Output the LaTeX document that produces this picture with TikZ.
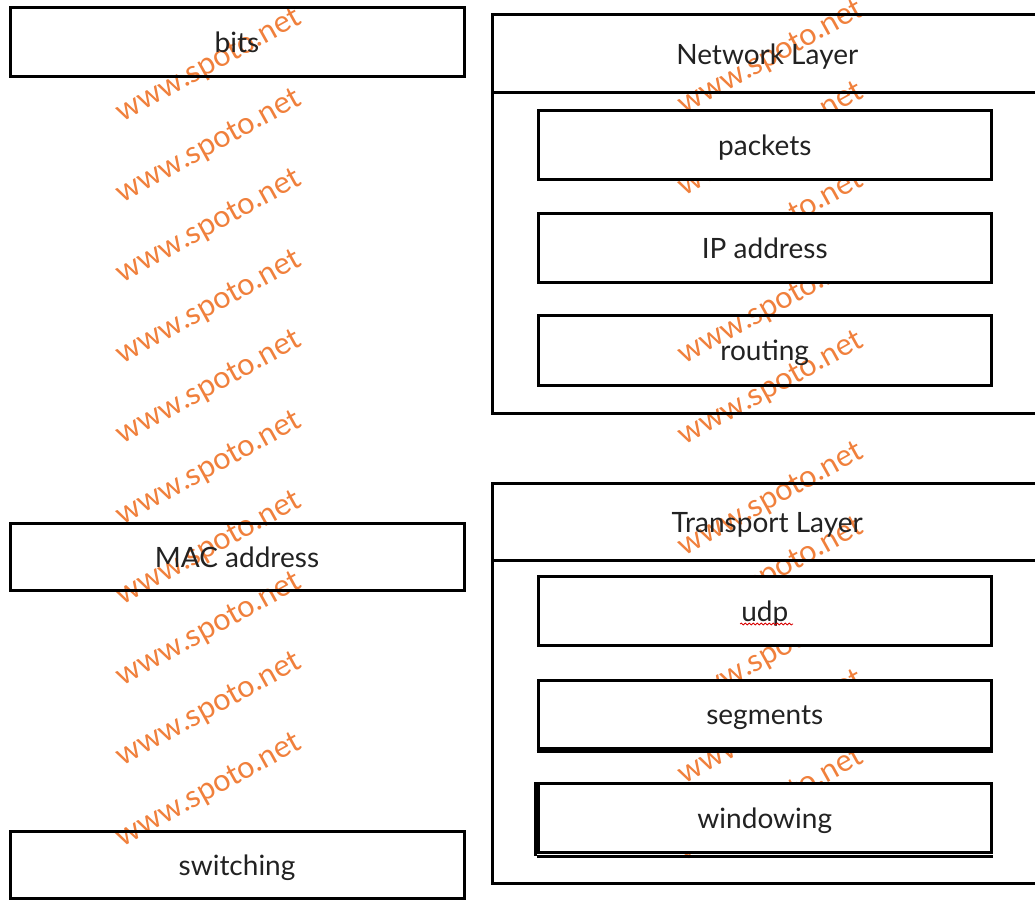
\documentclass[tikz,border=0pt]{standalone}
\usepackage{fontspec}
\setmainfont{Lato}
\usetikzlibrary{decorations.pathmorphing}
\definecolor{wmorange}{RGB}{240,128,60}
\definecolor{txtgray}{RGB}{34,34,34}
\begin{document}
\begin{tikzpicture}[x=0.75pt,y=-0.75pt,
  box/.style={draw=black, line width=2.25pt, rectangle, inner sep=0pt, text=txtgray, font=\fontsize{21}{25}\selectfont, text height=18.9pt, text depth=3.15pt},
  wbox/.style={box, fill=white},
  leftbox/.style={box, minimum width=340.5pt, minimum height=50.5pt},
  innerbox/.style={wbox, minimum width=340.125pt, minimum height=51.75pt},
  layerbox/.style={box, minimum width=412.125pt},
  wm/.style={text=wmorange, rotate=29, inner sep=0pt, font=\fontsize{23}{27}\selectfont},
  shadowline/.style={draw=black, line width=2.25pt},
  squiggle/.style={draw=red!85!black, line width=0.6pt, decorate, decoration={snake, amplitude=0.7pt, segment length=3pt}}
]
\useasboundingbox (0,0) rectangle (1035,902);
\begin{scope}
\clip (0,0) rectangle (1035,902);

% watermarks (left column)
\foreach \y [count=\i] in {66,147,227,308,388,469,549,630,710,791}
  \node[wm] (wmL\i) at (209,\y) {www.spoto.net};
% watermarks (right column)
\foreach \y [count=\i] in {58,140,228,308,389,500,575,655,728,805}
  \node[wm] (wmR\i) at (771,\y) {www.spoto.net};

% left column boxes
\node[leftbox, minimum height=51.75pt] (bits) at (237,42) {bits};
\node[leftbox] (mac) at (237,557) {MAC address};
\node[leftbox] (switching) at (237,865) {switching};

% Network Layer
\node[layerbox, minimum height=58.125pt] (nethead) at (767.25,53.75) {Network Layer};
\node[layerbox, minimum height=240.375pt] (netbody) at (767.25,252.75) {};
\node[innerbox] (packets) at (764.75,145) {packets};
\node[innerbox] (ip) at (764.75,248) {IP address};
\node[box, minimum width=340.125pt, minimum height=52.5pt] (routing) at (764.75,350) {routing};

% Transport Layer
\node[layerbox, minimum height=57.375pt] (trhead) at (767.25,521.75) {Transport Layer};
\node[layerbox, minimum height=242.625pt] (trbody) at (767.25,721.75) {};
\node[innerbox] (udp) at (764.75,611) {udp};
\node[innerbox, minimum height=51pt] (segments) at (764.75,714) {segments};
\node[innerbox] (windowing) at (764.75,818) {windowing};

% slight double edges
\draw[shadowline] ([yshift=-1.5pt]segments.south west) -- ([yshift=-1.5pt]segments.south east);
\draw[shadowline] ([yshift=-1.5pt]windowing.south west) -- ([yshift=-1.5pt]windowing.south east);
\draw[shadowline] ([xshift=-0.9pt]windowing.north west) -- ([xshift=-0.9pt,yshift=-1.5pt]windowing.south west);

% spell-check underline under udp
\coordinate (sqA) at (740,624);
\coordinate (sqB) at (793,624);
\draw[squiggle] (sqA) -- (sqB);
\end{scope}
\end{tikzpicture}
\end{document}
